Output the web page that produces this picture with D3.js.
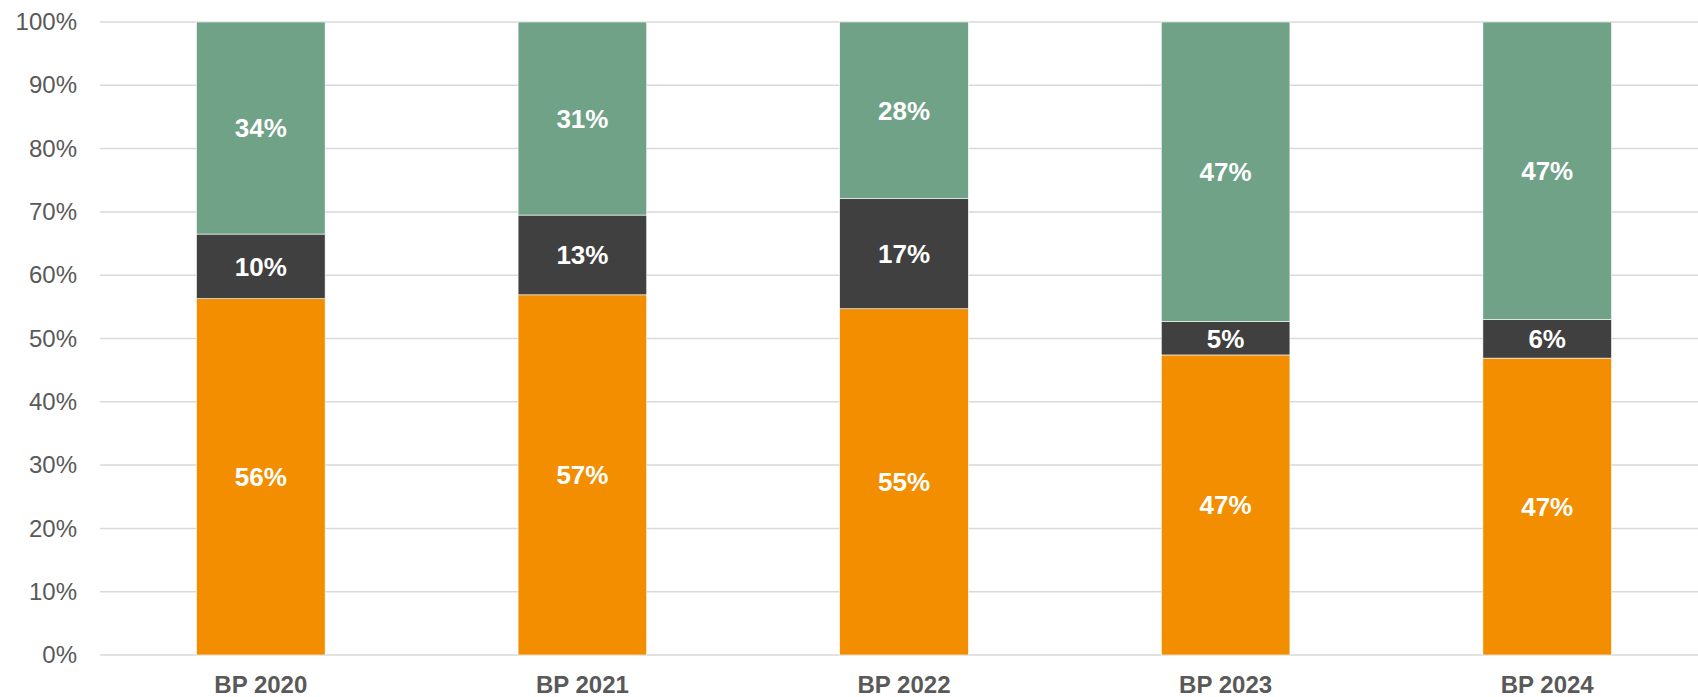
<!DOCTYPE html>
<html>
<head>
<meta charset="utf-8">
<script src="https://cdn.jsdelivr.net/npm/d3@7"></script>
<style>
  body { margin: 0; background: #fff; }
  text { font-family: "Liberation Sans", Arial, sans-serif; }
</style>
</head>
<body>
<div class="chart"></div>
<script>
// categories and shares (percent) per segment, bottom to top
var categories = ["BP 2020", "BP 2021", "BP 2022", "BP 2023", "BP 2024"];
var seriesNames = ["orange", "dark", "green"];
var orangeVals = [56.3, 56.9, 54.7, 47.4, 46.9];
var darkVals = [10.2, 12.6, 17.4, 5.3, 6.1];
var greenVals = [33.5, 30.5, 27.9, 47.3, 47.0];
var yTicks = [0, 10, 20, 30, 40, 50, 60, 70, 80, 90, 100];

var colors = {
	orange: "#f28e00",
	dark: "#404040",
	green: "#6fa287"
};

var width = 1698;
var height = 697;

var svg = d3.select(".chart").append("svg")
	.attr("width", width)
	.attr("height", height);

var x = d3.scaleBand()
	.domain(categories)
	.range([100, 1708])
	.paddingInner(0.6)
	.paddingOuter(0.3);

var y = d3.scaleLinear()
	.domain([0, 100])
	.range([655, 22]);

// gridlines
svg.append("g").selectAll("line")
	.data(yTicks)
	.enter().append("line")
		.attr("x1", 100)
		.attr("x2", width)
		.attr("y1", function(d){ return y(d); })
		.attr("y2", function(d){ return y(d); })
		.attr("stroke", "#d9d9d9")
		.attr("stroke-width", 1.5);

// y axis labels
var yAxis = d3.axisLeft(y)
	.tickValues(yTicks)
	.tickFormat(function(d){ return d + "%"; })
	.tickSize(0)
	.tickPadding(23);

var ya = svg.append("g")
	.attr("transform", "translate(100,0)")
	.call(yAxis);
ya.select(".domain").remove();
ya.selectAll("text")
	.attr("fill", "#595959")
	.style("font-size", "24px");

// stacked data
var rows = categories.map(function(c, i){
	return { cat: c, orange: orangeVals[i], dark: darkVals[i], green: greenVals[i] };
});
var stack = d3.stack().keys(seriesNames);
var layers = stack(rows);

var lg = svg.selectAll(".layer")
	.data(layers)
	.enter().append("g")
		.attr("class", "layer")
		.attr("fill", function(d){ return colors[d.key]; });

lg.selectAll("rect")
	.data(function(d){ return d; })
	.enter().append("rect")
		.attr("x", function(d){ return x(d.data.cat); })
		.attr("width", x.bandwidth())
		.attr("y", function(d){ return y(Math.min(d[1], 100)); })
		.attr("height", function(d){ return y(d[0]) - y(Math.min(d[1], 100)); })
		.attr("stroke", "#fff")
		.attr("stroke-width", 0.6);

lg.selectAll("text")
	.data(function(d){ return d; })
	.enter().append("text")
		.attr("x", function(d){ return x(d.data.cat) + x.bandwidth() / 2; })
		.attr("y", function(d){ return (y(d[0]) + y(Math.min(d[1], 100))) / 2; })
		.attr("dy", "0.36em")
		.attr("text-anchor", "middle")
		.attr("fill", "#fff")
		.style("font-size", "26px")
		.style("font-weight", "bold")
		.text(function(d){ return Math.round(d[1] - d[0]) + "%"; });

// category labels
var xAxis = d3.axisBottom(x).tickSize(0).tickPadding(21);
var xa = svg.append("g")
	.attr("transform", "translate(0,655)")
	.call(xAxis);
xa.select(".domain").remove();
xa.selectAll("text")
	.attr("fill", "#595959")
	.style("font-size", "24px")
	.style("font-weight", "bold");
</script>
</body>
</html>
